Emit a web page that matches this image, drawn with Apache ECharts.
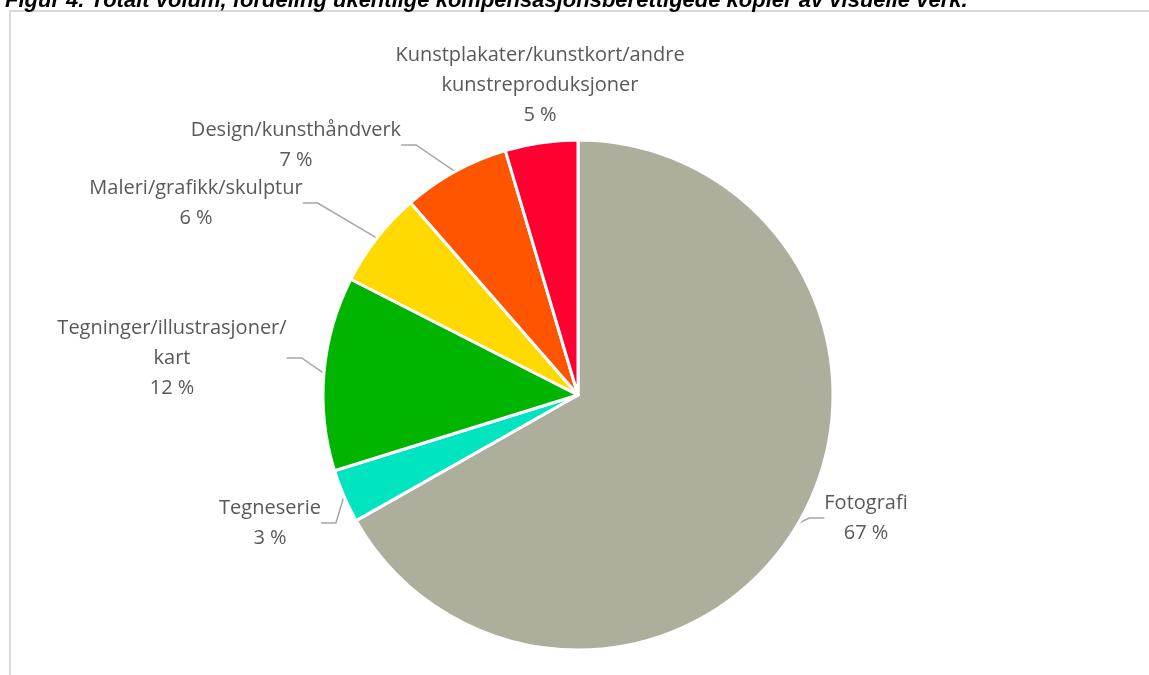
<!DOCTYPE html>
<html>
<head>
<meta charset="utf-8">
<script src="https://cdn.jsdelivr.net/npm/echarts@6/dist/echarts.min.js"></script>
<style>
html,body{margin:0;padding:0;background:#fff;overflow:hidden}
#main{width:1149px;height:675px}
</style>
</head>
<body>
<div id="main"></div>
<script>
// kategorier og andeler (prosent), lest av figuren
var categories = ['Fotografi', 'Tegneserie', 'Tegninger/illustrasjoner/\nkart', 'Maleri/grafikk/skulptur', 'Design/kunsthåndverk', 'Kunstplakater/kunstkort/andre\nkunstreproduksjoner'];
var values = [66.8, 3.4, 12.3, 6.1, 6.8, 4.6];
var colors = ['#aeae9d', '#00e4bf', '#00b400', '#ffd900', '#ff5500', '#ff0030'];

// hvor etikettene står (midtpunkt av tekstblokken)
var labelSpots = [[866, 518], [270, 523], [172, 358], [196, 203], [296, 145], [540, 85]];

var myChart = echarts.init(document.getElementById('main'));

var data = categories.map(function (name, i) {
    var item = { name: name, value: values[i], itemStyle: { color: colors[i] } };
    if (i === 5) item.labelLine = { show: false };
    return item;
});

var option = {
    animation: false,
    title: {
        text: 'Figur 4. Totalt volum, fordeling ukentlige kompensasjonsberettigede kopier av visuelle verk.',
        left: 0,
        top: -15,
        textStyle: {
            fontFamily: 'Liberation Sans',
            fontSize: 22,
            fontWeight: 'bold',
            fontStyle: 'italic',
            color: '#000'
        }
    },
    graphic: [{
        type: 'rect',
        shape: { x: 10, y: 11, width: 1300, height: 800 },
        style: { fill: 'none', stroke: '#d9d9d9', lineWidth: 2 },
        silent: true
    }],
    series: [{
        type: 'pie',
        center: [578, 395],
        radius: 255,
        startAngle: 90,
        clockwise: true,
        percentPrecision: 0,
        itemStyle: { borderColor: '#fff', borderWidth: 3 },
        label: {
            show: true,
            position: 'outside',
            formatter: '{b}\n{d} %',
            fontFamily: 'Open Sans',
            fontSize: 20,
            lineHeight: 30,
            color: '#595959',
            align: 'center'
        },
        labelLine: {
            show: true,
            length: 15,
            length2: 15,
            lineStyle: { color: '#a6a6a6', width: 1.5 }
        },
        labelLayout: function (params) {
            var p = labelSpots[params.dataIndex];
            return { x: p[0], y: p[1], align: 'center', verticalAlign: 'middle' };
        },
        data: data
    }]
};

myChart.setOption(option);
</script>
</body>
</html>
